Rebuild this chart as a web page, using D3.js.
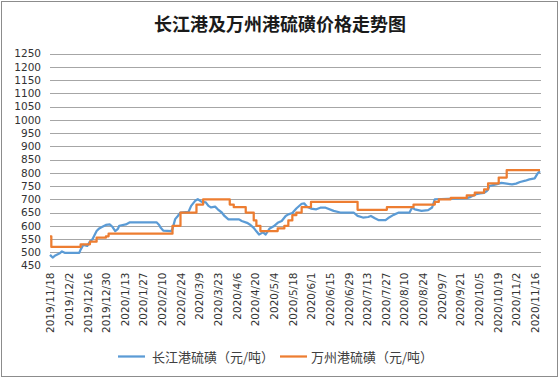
<!DOCTYPE html>
<html><head><meta charset="utf-8">
<script src="https://cdn.jsdelivr.net/npm/d3@7"></script>
<style>
html,body{margin:0;padding:0;background:#fff;}
svg{display:block;}
</style></head>
<body>
<svg id="chart" width="560" height="379"></svg>
<script>
const titleText = "长江港及万州港硫磺价格走势图";
const seriesNames = ["长江港硫磺（元/吨）", "万州港硫磺（元/吨）"];
const seriesColors = ["#5B9BD5", "#ED7D31"];

const xTickLabels = ["2019/11/18","2019/12/2","2019/12/16","2019/12/30","2020/1/13","2020/1/27","2020/2/10","2020/2/24","2020/3/9","2020/3/23","2020/4/6","2020/4/20","2020/5/4","2020/5/18","2020/6/1","2020/6/15","2020/6/29","2020/7/13","2020/7/27","2020/8/10","2020/8/24","2020/9/7","2020/9/21","2020/10/5","2020/10/19","2020/11/2","2020/11/16"];
const yTickValues = [450,500,550,600,650,700,750,800,850,900,950,1000,1050,1100,1150,1200,1250];
const xDomain = ["2019/11/18","2020/11/20"];

// 长江港 (polyline vertices)
const blueDates = ["2019/11/18","2019/11/20","2019/11/22","2019/11/25","2019/11/27","2019/11/29","2019/12/10","2019/12/11","2019/12/13","2019/12/16","2019/12/18","2019/12/20","2019/12/23","2019/12/25","2019/12/27","2019/12/30","2020/1/2","2020/1/4","2020/1/6","2020/1/8","2020/1/9","2020/1/14","2020/1/17","2020/2/6","2020/2/8","2020/2/9","2020/2/11","2020/2/17","2020/2/18","2020/2/20","2020/2/22","2020/2/24","2020/3/1","2020/3/3","2020/3/6","2020/3/8","2020/3/11","2020/3/14","2020/3/16","2020/3/18","2020/3/21","2020/3/23","2020/3/26","2020/3/28","2020/3/31","2020/4/8","2020/4/10","2020/4/14","2020/4/16","2020/4/19","2020/4/21","2020/4/23","2020/4/26","2020/4/28","2020/5/1","2020/5/4","2020/5/7","2020/5/10","2020/5/13","2020/5/15","2020/5/18","2020/5/21","2020/5/25","2020/5/27","2020/5/29","2020/6/1","2020/6/5","2020/6/8","2020/6/12","2020/6/18","2020/6/23","2020/7/3","2020/7/6","2020/7/10","2020/7/14","2020/7/16","2020/7/19","2020/7/22","2020/7/27","2020/7/29","2020/8/2","2020/8/6","2020/8/14","2020/8/16","2020/8/18","2020/8/23","2020/8/28","2020/8/31","2020/9/2","2020/9/26","2020/9/29","2020/10/3","2020/10/6","2020/10/9","2020/10/11","2020/10/12","2020/10/13","2020/10/18","2020/10/22","2020/10/26","2020/10/30","2020/11/2","2020/11/5","2020/11/9","2020/11/12","2020/11/16","2020/11/18","2020/11/20"];
const blueValues = [490,480,488,495,503,498,498,510,528,524,540,550,580,590,595,603,605,595,580,588,600,605,613,613,603,593,582,580,588,625,637,650,652,675,694,700,690,688,675,669,672,662,650,637,624,624,618,611,605,592,579,567,575,567,590,598,611,618,637,643,648,665,683,684,672,665,662,668,668,656,650,650,637,631,633,637,628,621,621,629,641,650,650,669,662,656,659,669,700,704,709,719,722,724,731,737,750,756,762,759,756,759,765,770,775,779,796,806];

// 万州港 (price changes, held until next change)
const orangeDates = ["2019/11/18","2019/11/19","2019/12/11","2019/12/18","2019/12/23","2019/12/30","2020/1/1","2020/2/18","2020/2/24","2020/3/7","2020/3/12","2020/4/1","2020/4/4","2020/4/13","2020/4/19","2020/4/21","2020/4/24","2020/5/7","2020/5/12","2020/5/15","2020/5/18","2020/5/21","2020/5/25","2020/6/1","2020/7/6","2020/7/28","2020/8/17","2020/9/2","2020/9/5","2020/9/14","2020/9/26","2020/10/2","2020/10/9","2020/10/12","2020/10/20","2020/10/26","2020/11/20"];
const orangeValues = [560,520,530,540,555,560,570,600,650,680,700,680,670,650,620,600,580,590,600,620,640,650,670,690,660,670,680,690,700,705,715,725,737,760,782,810,810];

const parse = d3.timeParse("%Y/%m/%d");
const fmt = d3.timeFormat("%Y/%-m/%-d");

const svg = d3.select("#chart");
const W = 560, H = 379;
const plotL = 50, plotR = 540, plotT = 53.5, plotB = 265.5;

// outer border
svg.append("rect").attr("x",1.5).attr("y",1.5).attr("width",W-4).attr("height",H-4)
  .attr("fill","#fff").attr("stroke","#8c8c8c").attr("stroke-width",1);

svg.append("text").attr("x",280).attr("y",31).attr("text-anchor","middle")
  .attr("font-family","'Noto Sans CJK SC', sans-serif").attr("font-weight","bold")
  .attr("font-size",18).attr("fill","#1a1a1a").text(titleText);

const x = d3.scaleTime().domain(xDomain.map(parse)).range([plotL, plotR]);
const y = d3.scaleLinear().domain([450,1250]).range([plotB, plotT]);

// gridlines
svg.append("g").selectAll("line").data(yTickValues).join("line")
  .attr("x1",plotL).attr("x2",plotR+1)
  .attr("y1",d=>Math.round(y(d))+0.5).attr("y2",d=>Math.round(y(d))+0.5)
  .attr("stroke","#a6a6a6").attr("stroke-width",1);

// y labels
svg.append("g").selectAll("text").data(yTickValues).join("text")
  .attr("x",41).attr("y",d=>y(d)).attr("dy","0.36em").attr("text-anchor","end")
  .attr("font-family","'DejaVu Sans', sans-serif").attr("font-size",10.5).attr("fill","#333")
  .text(d=>d);

// x axis
const xAxis = d3.axisBottom(x).tickValues(xTickLabels.map(parse)).tickFormat(fmt).tickSize(0).tickPadding(0);
const gx = svg.append("g").attr("transform",`translate(0,${Math.round(plotB)+0.5})`).call(xAxis);
gx.select(".domain").remove();
gx.selectAll("text")
  .attr("font-family","'DejaVu Sans', sans-serif").attr("font-size",10.5).attr("fill","#333")
  .attr("text-anchor","end").attr("transform","rotate(-90)")
  .attr("x",-6).attr("y",0).attr("dy","0.36em");

const lineBlue = d3.line().x(d=>x(d.date)).y(d=>y(d.v)).curve(d3.curveLinear);
const lineOrange = d3.line().x(d=>x(d.date)).y(d=>y(d.v)).curve(d3.curveStepAfter);
const blue = blueDates.map((d,i)=>({date:parse(d), v:blueValues[i]}));
const orange = orangeDates.map((d,i)=>({date:parse(d), v:orangeValues[i]}));

svg.append("path").datum(blue).attr("d",lineBlue).attr("fill","none")
  .attr("stroke",seriesColors[0]).attr("stroke-width",2.25).attr("stroke-linejoin","round");
svg.append("path").datum(orange).attr("d",lineOrange).attr("fill","none")
  .attr("stroke",seriesColors[1]).attr("stroke-width",2.25).attr("stroke-linejoin","round");

// legend
const legendItems = [{x:118, tx:152},{x:280, tx:311}];
legendItems.forEach((it,i)=>{
  svg.append("line").attr("x1",it.x).attr("x2",it.x+27).attr("y1",356.5).attr("y2",356.5)
    .attr("stroke",seriesColors[i]).attr("stroke-width",2.25);
  svg.append("text").attr("x",it.tx).attr("y",357).attr("dy","0.36em")
    .attr("font-family","'Noto Sans CJK SC', sans-serif").attr("font-size",13).attr("fill","#404040")
    .text(seriesNames[i]);
});
</script>
</body></html>
